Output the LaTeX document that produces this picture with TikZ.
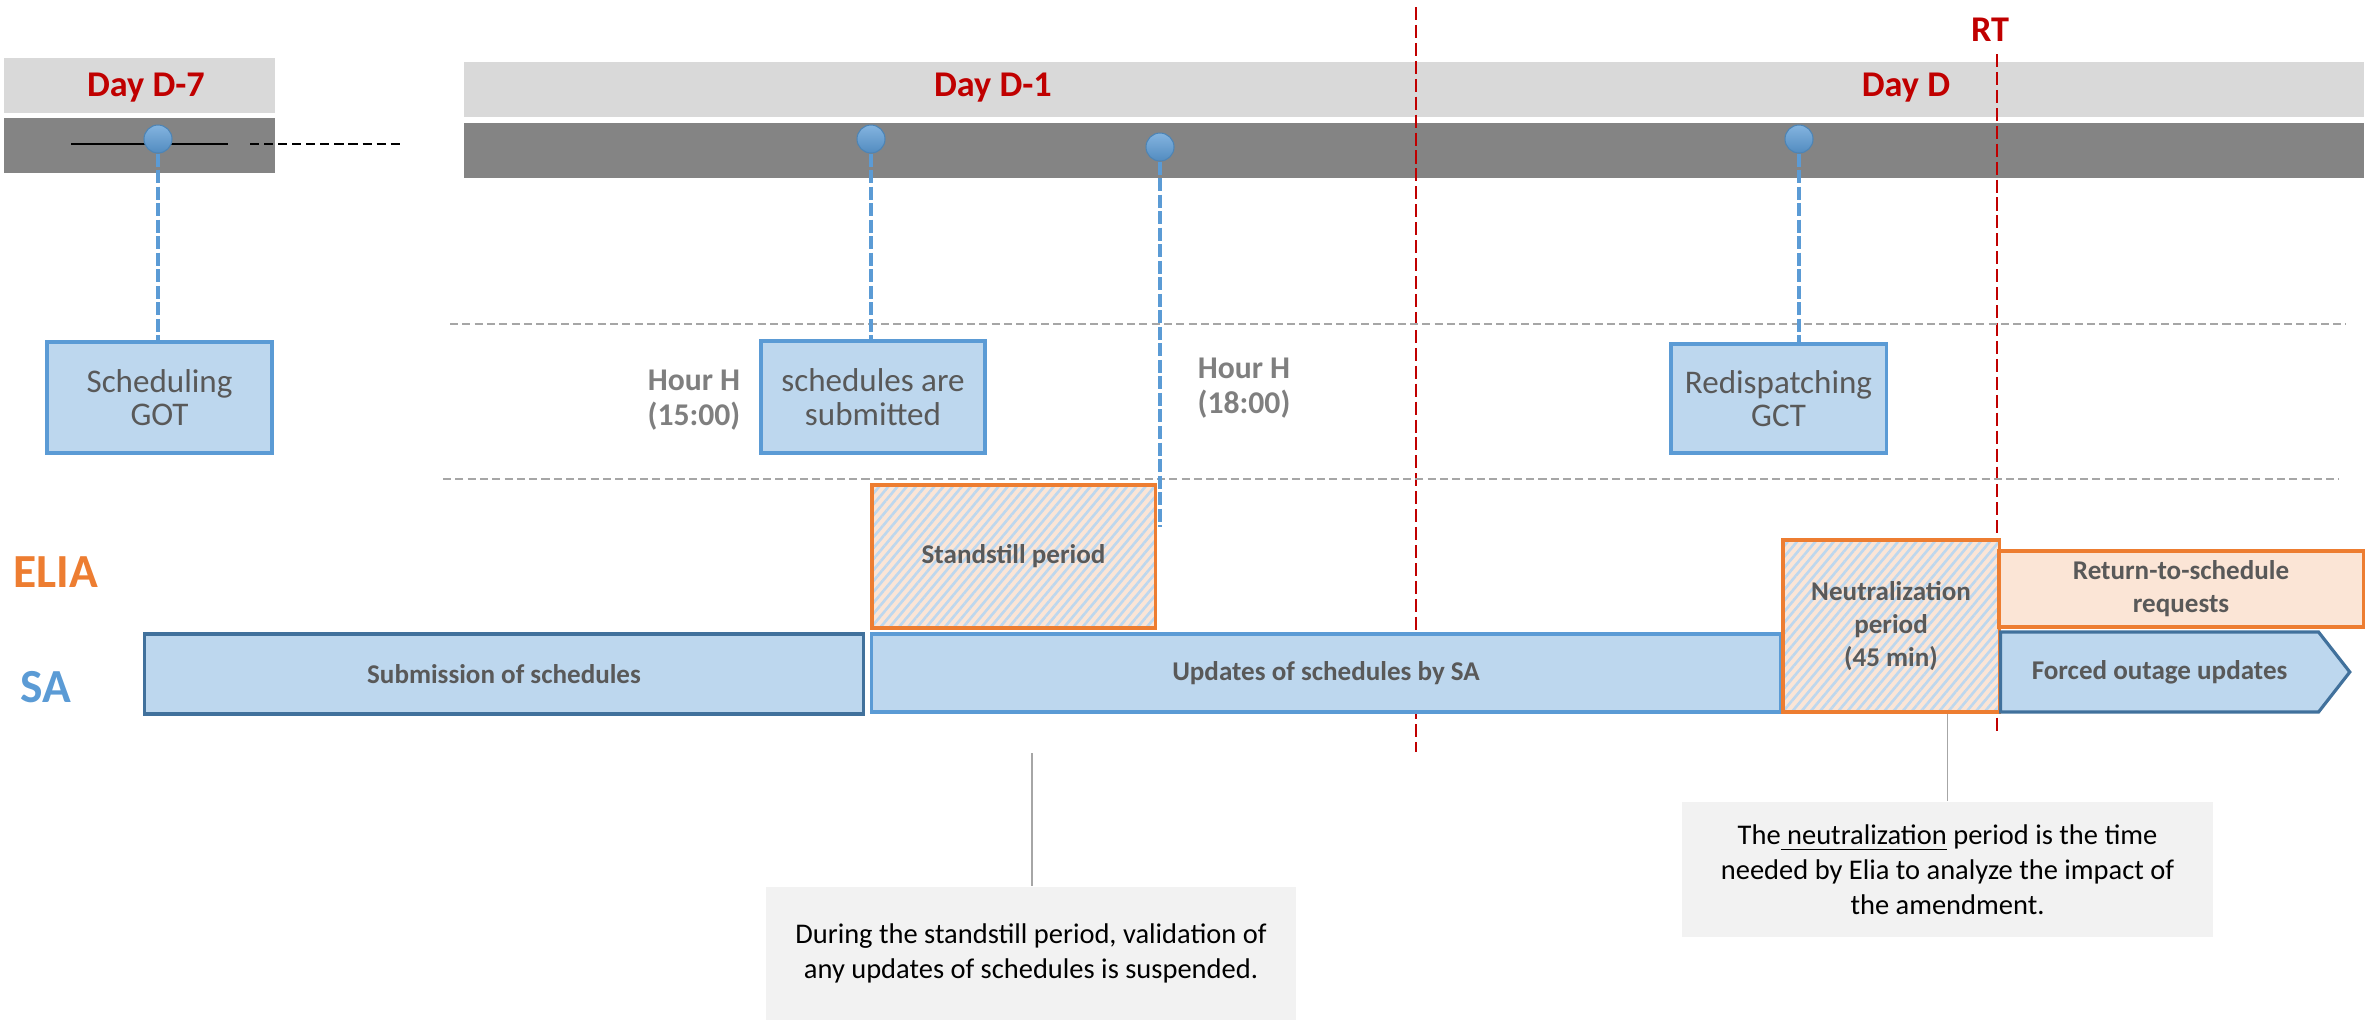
\documentclass[tikz,border=0pt]{standalone}
\usepackage{fontspec}
\setmainfont{Carlito}
\usetikzlibrary{shapes.symbols,patterns.meta}
\definecolor{lgray}{HTML}{D9D9D9}
\definecolor{dgray}{HTML}{848484}
\definecolor{dred}{HTML}{C00000}
\definecolor{mblue}{HTML}{5B9BD5}
\definecolor{lblue}{HTML}{BDD7EE}
\definecolor{nblue}{HTML}{41719C}
\definecolor{orng}{HTML}{ED7D31}
\definecolor{lorng}{HTML}{FBE5D6}
\definecolor{txtgray}{HTML}{595959}
\definecolor{hgray}{HTML}{7F7F7F}
\definecolor{cgray}{HTML}{F2F2F2}
\definecolor{lngray}{HTML}{A6A6A6}
\newcommand{\dayfont}{\fontsize{10.3}{12}\selectfont\bfseries}
\newcommand{\actorfont}{\fontsize{13.5}{15}\selectfont\bfseries}
\newcommand{\evtfont}{\fontsize{9.4}{9.6}\selectfont}
\newcommand{\hourfont}{\fontsize{9}{10}\selectfont\bfseries}
\newcommand{\phasefont}{\fontsize{7.7}{9.4}\selectfont\bfseries}
\newcommand{\notefont}{\fontsize{8.1}{10}\selectfont}
\tikzstyle{band}=[rectangle, fill=lgray, inner sep=0pt, minimum height=0.55cm]
\tikzstyle{bar}=[rectangle, fill=dgray, inner sep=0pt, minimum height=0.55cm]
\tikzstyle{daylabel}=[text=dred, font=\dayfont, inner sep=0pt]
\tikzstyle{pin}=[circle, draw=mblue!85!black, line width=0.3pt, top color=mblue!75!white, bottom color=mblue!90!black, minimum size=0.28cm, inner sep=0pt]
\tikzstyle{stem}=[mblue, line width=0.95pt, dash pattern=on 3.7pt off 1pt]
\tikzstyle{event}=[rectangle, draw=mblue, line width=0.9pt, fill=lblue, text=txtgray, font=\evtfont, align=center, inner sep=0pt]
\tikzstyle{hour}=[text=hgray, font=\hourfont, align=center, inner sep=0pt]
\tikzstyle{lane}=[lngray, line width=0.5pt, dash pattern=on 2.3pt off 1.2pt]
\tikzstyle{cut}=[dred, line width=0.7pt, dash pattern=on 3.7pt off 1.4pt]
\tikzstyle{actor}=[font=\actorfont, inner sep=0pt]
\tikzstyle{phase}=[rectangle, draw=mblue, line width=0.9pt, fill=lblue, text=txtgray, font=\phasefont, align=center, inner sep=0pt]
\tikzstyle{hatched}=[rectangle, draw=orng, line width=0.9pt, preaction={fill=lorng}, pattern={Lines[angle=50,distance=2pt,line width=0.75pt]}, pattern color=lblue, text=txtgray, font=\phasefont, align=center, inner sep=0pt]
\tikzstyle{note}=[rectangle, fill=cgray, font=\notefont, align=center, inner sep=0pt]
\tikzstyle{leader}=[lngray, line width=0.4pt]
\begin{document}
\begin{tikzpicture}[x=0.01cm, y=-0.01cm]
  \useasboundingbox (0,0) rectangle (2379,1020);
  \node[band, minimum width=2.71cm] (band7) at (139.5,85.5) {};
  \node[bar, minimum width=2.71cm] (bar7) at (139.5,145.5) {};
  \node[band, minimum width=18.98cm] (band1) at (1414,89.5) {};
  \node[bar, minimum width=18.98cm] (bar1) at (1414,150.5) {};
  \node[daylabel] (day7) at (146,88) {Day D-7};
  \node[daylabel] (day1) at (993,88) {Day D-1};
  \node[daylabel] (day0) at (1906,88) {Day D};
  \node[daylabel] (rt) at (1990,30) {RT};

  \coordinate (c0) at (1416,7);
  \coordinate (c1) at (1416,752);
  \coordinate (rt0) at (1997,54);
  \coordinate (rt1) at (1997,733);
  \draw[cut] (c0) -- (c1);
  \draw[cut] (rt0) -- (rt1);

  \coordinate (u0) at (450,324);
  \coordinate (u1) at (2346,324);
  \coordinate (l0) at (443,479);
  \coordinate (l1) at (2339,479);
  \draw[lane] (u0) -- (u1);
  \draw[lane] (l0) -- (l1);

  \coordinate (t0) at (71,144);
  \coordinate (t1) at (228,144);
  \coordinate (t2) at (250,144);
  \coordinate (t3) at (400,144);
  \draw[black, line width=0.65pt] (t0) -- (t1);
  \draw[black, line width=0.65pt, dash pattern=on 2.6pt off 1.4pt] (t2) -- (t3);

  \node[event, minimum width=2.25cm, minimum height=1.11cm] (got) at (159.5,397.5) {Scheduling\\GOT};
  \node[event, minimum width=2.24cm, minimum height=1.12cm] (subm) at (873,397) {schedules are\\submitted};
  \node[event, minimum width=2.15cm, minimum height=1.09cm] (gct) at (1778.5,398.5) {Redispatching\\GCT};
  \node[hour] (h15) at (694,400) {Hour H\\(15:00)};
  \node[hour] (h18) at (1244,388) {Hour H\\(18:00)};

  \node[pin] (p7) at (158,139) {};
  \node[pin] (p15) at (871,139) {};
  \node[pin] (p18) at (1160,147) {};
  \node[pin] (pgct) at (1799,139) {};
  \coordinate (e18) at (1160,527);
  \draw[stem] (p7) -- (p7 |- got.north);
  \draw[stem] (p15) -- (p15 |- subm.north);
  \draw[stem] (p18) -- (e18);
  \draw[stem] (pgct) -- (pgct |- gct.north);

  \node[actor, text=orng] (elia) at (56,572) {ELIA};
  \node[actor, text=mblue] (sa) at (46,687) {SA};

  \node[phase, draw=nblue, minimum width=7.18cm, minimum height=0.80cm] (subsch) at (504,674) {Submission of schedules};
  \node[phase, minimum width=9.08cm, minimum height=0.78cm] (updsa) at (1326,673) {Updates of schedules by SA};
  \node[hatched, minimum width=2.83cm, minimum height=1.43cm] (stand) at (1013.5,556.5) {Standstill period};
  \node[hatched, minimum width=2.16cm, minimum height=1.72cm] (neut) at (1891,626) {Neutralization\\period\\(45 min)};
  \node[phase, draw=orng, fill=lorng, minimum width=3.64cm, minimum height=0.76cm] (rts) at (2181,589) {Return-to-schedule\\requests};
  \node[phase, draw=nblue, shape=signal, signal to=east, signal pointer angle=104, minimum width=3.49cm, minimum height=0.80cm, anchor=west] (fou) at (1999,672) {Forced outage updates};

  \node[note, minimum width=5.30cm, minimum height=1.33cm] (note1) at (1031,953.5) {During the standstill period, validation of\\any updates of schedules is suspended.};
  \node[note, minimum width=5.31cm, minimum height=1.35cm] (note2) at (1947.5,869.5) {The\underline{ neutralization} period is the time\\needed by Elia to analyze the impact of\\the amendment.};
  \coordinate (k1) at (1032,753);
  \draw[leader] (k1) -- (k1 |- note1.north);
  \draw[leader] (note2.north |- neut.south) -- (note2.north);
\end{tikzpicture}
\end{document}
